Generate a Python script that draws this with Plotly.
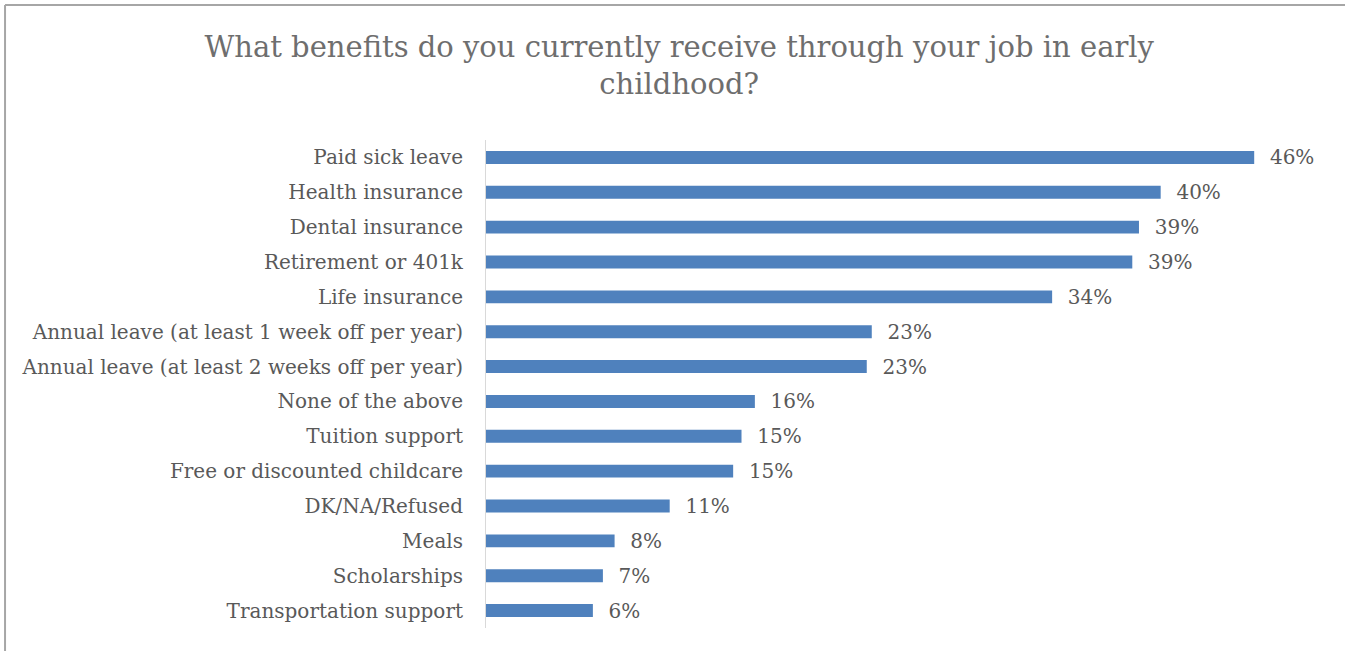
import plotly.graph_objects as go

# Survey responses, listed from most to least common
benefits = [
    "Paid sick leave",
    "Health insurance",
    "Dental insurance",
    "Retirement or 401k",
    "Life insurance",
    "Annual leave (at least 1 week off per year)",
    "Annual leave (at least 2 weeks off per year)",
    "None of the above",
    "Tuition support",
    "Free or discounted childcare",
    "DK/NA/Refused",
    "Meals",
    "Scholarships",
    "Transportation support",
]
shares = [0.460, 0.404, 0.391, 0.387, 0.339, 0.231, 0.228,
          0.161, 0.153, 0.148, 0.110, 0.077, 0.070, 0.064]

FONT = "DejaVu Serif"
GREY = "#595959"
FRAME = dict(color="#a6a6a6", width=2)

fig = go.Figure(
    go.Bar(
        x=shares,
        y=benefits,
        orientation="h",
        marker=dict(color="#4f81bd", line=dict(width=0)),
        width=0.37,
        texttemplate="  %{x:.0%}",
        textposition="outside",
        constraintext="none",
        textfont=dict(family=FONT, size=20, color=GREY),
        cliponaxis=False,
        hoverinfo="skip",
    )
)

fig.update_layout(
    width=1345,
    height=651,
    paper_bgcolor="white",
    plot_bgcolor="white",
    showlegend=False,
    margin=dict(l=486, r=24, t=140, b=23),
    title=dict(
        text="What benefits do you currently receive through your job in early<br>childhood?",
        font=dict(family=FONT, size=29, color="#6e6e6e"),
        x=0.505,
        xanchor="center",
        y=0.913,
        yanchor="top",
    ),
    xaxis=dict(
        range=[0, 0.5],
        visible=False,
        showgrid=False,
        zeroline=False,
    ),
    yaxis=dict(
        autorange="reversed",
        showline=True,
        linecolor="#d9d9d9",
        linewidth=1,
        showgrid=False,
        ticks="",
        ticklabelstandoff=18,
        tickfont=dict(family=FONT, size=20, color=GREY),
    ),
    shapes=[
        # outer chart frame: top and left edges
        dict(type="line", xref="paper", yref="paper",
             x0=-0.576, x1=1.2, y0=1.2766, y1=1.2766, line=FRAME),
        dict(type="line", xref="paper", yref="paper",
             x0=-0.576, x1=-0.576, y0=-0.2, y1=1.2766, line=FRAME),
    ],
)

fig.write_html("out.html")
